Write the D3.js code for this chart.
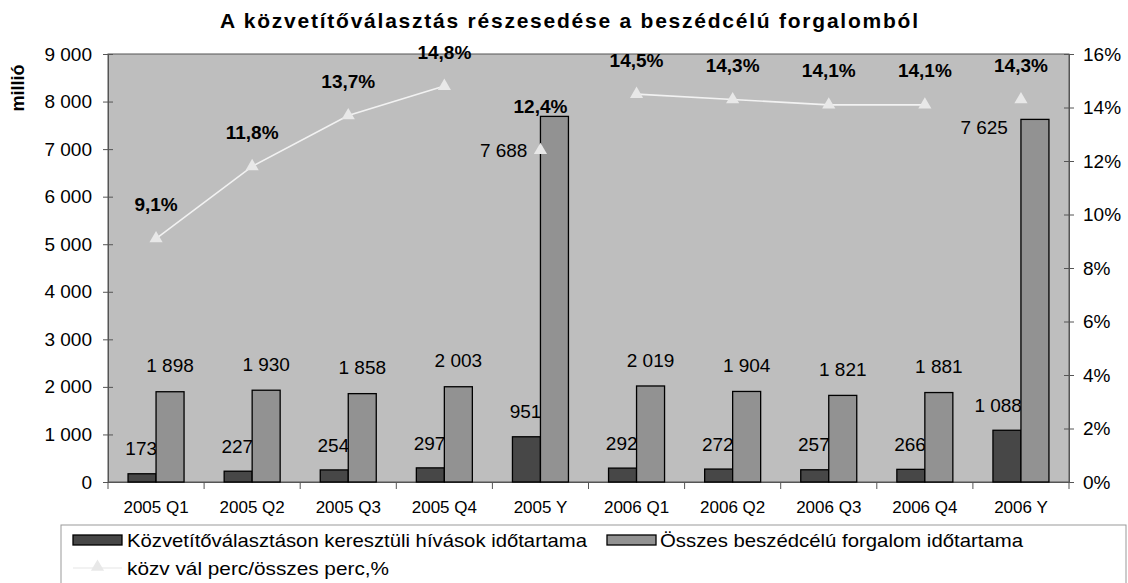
<!DOCTYPE html>
<html>
<head>
<meta charset="utf-8">
<script src="https://cdn.jsdelivr.net/npm/d3@7"></script>
<style>
  body { margin: 0; background: #fff; }
  text { font-family: "Liberation Sans", Arial, sans-serif; fill: #000; }
</style>
</head>
<body>
<svg id="chart"></svg>
<script>
// adatok
var categories = ["2005 Q1", "2005 Q2", "2005 Q3", "2005 Q4", "2005 Y",
                  "2006 Q1", "2006 Q2", "2006 Q3", "2006 Q4", "2006 Y"];
var kozvetito = [173, 227, 254, 297, 951, 292, 272, 257, 266, 1088];
var osszes = [1898, 1930, 1858, 2003, 7688, 2019, 1904, 1821, 1881, 7625];
var arany = [9.1, 11.8, 13.7, 14.8, 12.4, 14.5, 14.3, 14.1, 14.1, 14.3];
var leftTicks = [0, 1000, 2000, 3000, 4000, 5000, 6000, 7000, 8000, 9000];
var rightTicks = [0, 2, 4, 6, 8, 10, 12, 14, 16];

var width = 1128;
var height = 583;
var pL = 108, pR = 1069, pT = 54, pB = 482;
var barW = 28;

var hu = d3.formatLocale({decimal: ",", thousands: " ", grouping: [3], currency: ["", ""]});
var fmtNum = hu.format(",");
var fmtPct = hu.format(".1f");

var svg = d3.select("#chart").attr("width", width).attr("height", height);

var x = d3.scaleBand().domain(categories).range([pL, pR]);
var y = d3.scaleLinear().domain([0, 9000]).range([pB, pT]);
var y2 = d3.scaleLinear().domain([0, 16]).range([pB, pT]);

function cx(i) { return x(categories[i]) + x.bandwidth() / 2; }

// title
svg.append("text")
    .attr("x", 569).attr("y", 28)
    .attr("text-anchor", "middle")
    .attr("font-size", 21).attr("font-weight", "bold")
    .attr("textLength", 698).attr("lengthAdjust", "spacing")
    .text("A közvetítőválasztás részesedése a beszédcélú forgalomból");

svg.append("text")
    .attr("transform", "translate(24,88) rotate(-90)")
    .attr("text-anchor", "middle")
    .attr("font-size", 18).attr("font-weight", "bold")
    .text("millió");

// plot area
svg.append("rect")
    .attr("x", pL).attr("y", pT)
    .attr("width", pR - pL).attr("height", pB - pT)
    .attr("fill", "#bebebe").attr("stroke", "#555").attr("stroke-width", 1);

// left axis
var ax1 = svg.append("g").attr("transform", "translate(" + pL + ",0)")
    .call(d3.axisLeft(y).tickValues(leftTicks).tickFormat(fmtNum).tickSize(5).tickPadding(11));
ax1.selectAll(".tick line").attr("x2", -5).attr("x1", 5).attr("stroke", "#555");
ax1.select(".domain").attr("stroke", "#555");
ax1.selectAll("text").attr("font-size", 19).attr("font-family", null);

// right axis
var ax2 = svg.append("g").attr("transform", "translate(" + pR + ",0)")
    .call(d3.axisRight(y2).tickValues(rightTicks).tickFormat(function(d) { return d + "%"; }).tickSize(5).tickPadding(9));
ax2.selectAll(".tick line").attr("x1", -5).attr("stroke", "#555");
ax2.select(".domain").attr("stroke", "#555");
ax2.selectAll("text").attr("font-size", 19).attr("font-family", null);

// x axis
var ax3 = svg.append("g").attr("transform", "translate(0," + pB + ")")
    .call(d3.axisBottom(x).tickSize(0).tickPadding(19));
ax3.select(".domain").attr("stroke", "#555");
ax3.selectAll("text").attr("font-size", 17).attr("font-family", null);
svg.append("g").selectAll("line")
    .data(d3.range(categories.length + 1))
    .enter().append("line")
    .attr("x1", function(i) { return pL + i * x.step(); })
    .attr("x2", function(i) { return pL + i * x.step(); })
    .attr("y1", pB).attr("y2", pB + 7)
    .attr("stroke", "#555");

// dark bars
svg.append("g").selectAll("rect")
    .data(kozvetito)
    .enter().append("rect")
    .attr("x", function(d, i) { return cx(i) - barW; })
    .attr("y", function(d) { return y(d); })
    .attr("width", barW)
    .attr("height", function(d) { return pB - y(d); })
    .attr("fill", "#474747").attr("stroke", "#000").attr("stroke-width", 1.3);

svg.append("g").selectAll("text")
    .data(kozvetito)
    .enter().append("text")
    .attr("x", function(d, i) { return cx(i) + 1; })
    .attr("y", function(d) { return y(d) - 25; })
    .attr("dy", "0.35em")
    .attr("text-anchor", "end")
    .attr("font-size", 19)
    .text(function(d) { return fmtNum(d); });

// light bars
svg.append("g").selectAll("rect")
    .data(osszes)
    .enter().append("rect")
    .attr("x", function(d, i) { return cx(i); })
    .attr("y", function(d) { return y(d); })
    .attr("width", barW)
    .attr("height", function(d) { return pB - y(d); })
    .attr("fill", "#929292").attr("stroke", "#000").attr("stroke-width", 1.3);

svg.append("g").selectAll("text")
    .data(osszes)
    .enter().append("text")
    .attr("x", function(d, i) {
        if (d > 5000) return cx(i) - 13;
        return cx(i) + barW / 2;
    })
    .attr("y", function(d, i) {
        if (d > 5000) return Math.max(y(d) + 8, y2(arany[i]));
        return y(d) - 26;
    })
    .attr("dy", "0.35em")
    .attr("text-anchor", function(d) { return d > 5000 ? "end" : "middle"; })
    .attr("font-size", 19)
    .text(function(d) { return fmtNum(d); });

// percent line
var line = d3.line()
    .defined(function(d, i) { return !categories[i].endsWith("Y"); })
    .x(function(d, i) { return cx(i); })
    .y(function(d) { return y2(d); });

svg.append("path")
    .datum(arany)
    .attr("d", line)
    .attr("fill", "none").attr("stroke", "#f2f2f2").attr("stroke-width", 1.6);

var tri = d3.symbol().type(d3.symbolTriangle).size(75);
svg.append("g").selectAll("path")
    .data(arany)
    .enter().append("path")
    .attr("d", tri)
    .attr("transform", function(d, i) { return "translate(" + cx(i) + "," + y2(d) + ")"; })
    .attr("fill", "#e8e8e8");

svg.append("g").selectAll("text")
    .data(arany)
    .enter().append("text")
    .attr("x", function(d, i) { return cx(i); })
    .attr("y", function(d, i) { return Math.min(y2(d) - 34, y(osszes[i]) - 10); })
    .attr("dy", "0.35em")
    .attr("text-anchor", "middle")
    .attr("font-size", 19).attr("font-weight", "bold")
    .text(function(d) { return fmtPct(d) + "%"; });

// legend
var lg = svg.append("g");
lg.append("rect")
    .attr("x", 61).attr("y", 525).attr("width", 1065).attr("height", 70)
    .attr("fill", "#fff").attr("stroke", "#999");
lg.append("rect")
    .attr("x", 73).attr("y", 535).attr("width", 49).attr("height", 10)
    .attr("fill", "#474747").attr("stroke", "#000").attr("stroke-width", 1.3);
lg.append("text")
    .attr("x", 127).attr("y", 540).attr("dy", "0.35em").attr("font-size", 19)
    .attr("textLength", 460).attr("lengthAdjust", "spacingAndGlyphs")
    .text("Közvetítőválasztáson keresztüli hívások időtartama");
lg.append("rect")
    .attr("x", 607).attr("y", 535).attr("width", 49).attr("height", 10)
    .attr("fill", "#929292").attr("stroke", "#000").attr("stroke-width", 1.3);
lg.append("text")
    .attr("x", 660).attr("y", 540).attr("dy", "0.35em").attr("font-size", 19)
    .attr("textLength", 363).attr("lengthAdjust", "spacingAndGlyphs")
    .text("Összes beszédcélú forgalom időtartama");
lg.append("line")
    .attr("x1", 73).attr("x2", 122).attr("y1", 568).attr("y2", 568)
    .attr("stroke", "#eeeeee").attr("stroke-width", 1.6);
lg.append("path")
    .attr("d", tri)
    .attr("transform", "translate(97.5,567)")
    .attr("fill", "#e8e8e8");
lg.append("text")
    .attr("x", 127).attr("y", 568).attr("dy", "0.35em").attr("font-size", 19)
    .attr("textLength", 262).attr("lengthAdjust", "spacingAndGlyphs")
    .text("közv vál perc/összes perc,%");
</script>
</body>
</html>
